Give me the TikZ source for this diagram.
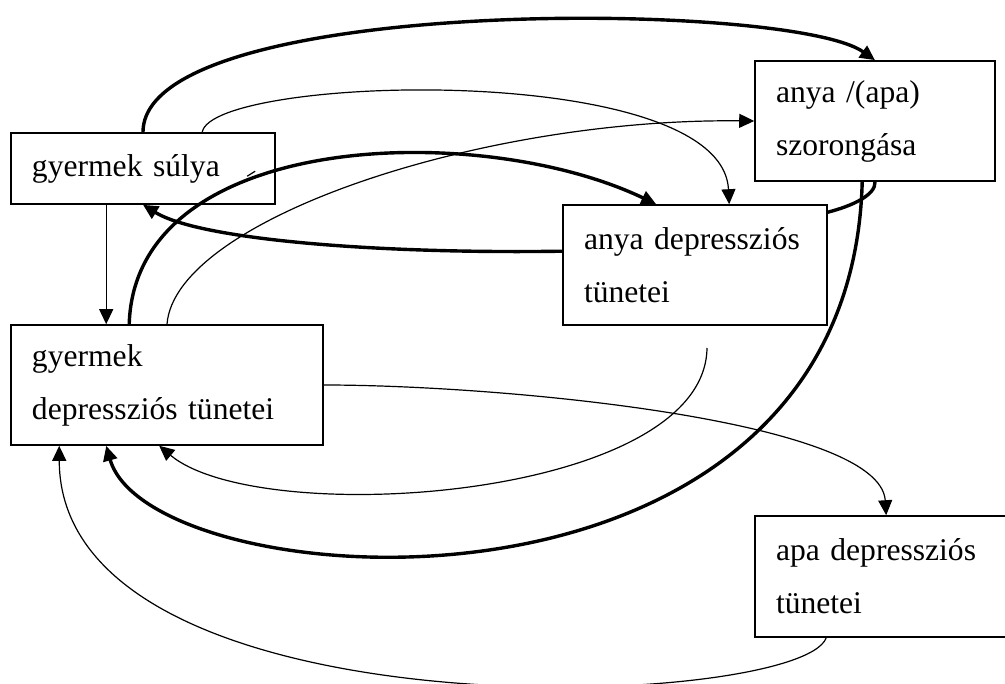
\documentclass[tikz,border=0pt]{standalone}
\usepackage{fontspec}
\setmainfont{Liberation Serif}
\usetikzlibrary{arrows.meta, calc}
\tikzset{
    box/.style = {draw, line width=.8pt, rectangle, align=left,
        inner xsep=10.5pt, inner ysep=0pt,
        font=\fontsize{15.8pt}{26.5pt}\selectfont},
    slim/.style = {line width=.6pt},
    heavy/.style = {line width=1.7pt},
    arr/.style = {-{Triangle[length=7.5pt,width=7pt]}},
}
\begin{document}
\begin{tikzpicture}[x=.5pt, y=-.5pt]
\useasboundingbox (0,0) rectangle (1005,684);

\node[box, minimum width=132pt, minimum height=35.5pt, text width=111pt] (suly) at (143,168.5) {gyermek súlya};
\node[box, minimum width=120pt, minimum height=60pt, text width=99pt] (szor) at (875,121) {anya /(apa)\\szorongása};
\node[box, minimum width=132pt, minimum height=60pt, text width=111pt] (adep) at (695,265) {anya depressziós\\tünetei};
\node[box, minimum width=156pt, minimum height=60pt, text width=135pt] (gydep) at (167,385) {gyermek\\depressziós tünetei};
\node[box, minimum width=140pt, minimum height=60.5pt, text width=119pt] (apdep) at (895,576.5) {apa depressziós\\tünetei};

\draw[heavy, arr] (suly.north) .. controls (143,-5) and (790,0) .. (szor.north);
\draw[slim, arr] ($(suly.north west)+(192,0)$) .. controls (212,75) and (722,60) .. ($(adep.north west)+(167,0)$);
\draw[slim, arr] (gydep.north) .. controls (175,220) and (480,118) .. (szor.west);
\draw[heavy, arr] ($(gydep.north west)+(119,0)$) .. controls (135,130) and (480,120) .. ($(adep.north west)+(94,0)$);
\draw[heavy, arr] ($(adep.north west)+(0,47)$) .. controls (380,254) and (200,240) .. (suly.south);
\draw[heavy] ($(adep.north east)+(0,8)$) .. controls (852,206) and (876,195) .. (szor.south);
\draw[heavy, arr] ($(szor.south west)+(108,0)$) .. controls (850,650) and (150,600) .. ($(gydep.south west)+(96,0)$);

\coordinate (free) at (707,348);
\draw[slim, arr] (free) .. controls (705,500) and (260,530) .. ($(gydep.south west)+(149,0)$);
\draw[slim, arr] (gydep.east) .. controls (500,385) and (880,420) .. ($(apdep.north west)+(132,0)$);
\draw[slim, arr] ($(apdep.south west)+(72,0)$) .. controls (800,710) and (60,740) .. ($(gydep.south west)+(49,0)$);
\draw[slim, arr] ($(suly.south west)+(96,0)$) -- ($(gydep.north west)+(96,0)$);
\draw[slim] ($(suly.north west)+(237,44)$) -- +(8,-5);
\end{tikzpicture}
\end{document}
